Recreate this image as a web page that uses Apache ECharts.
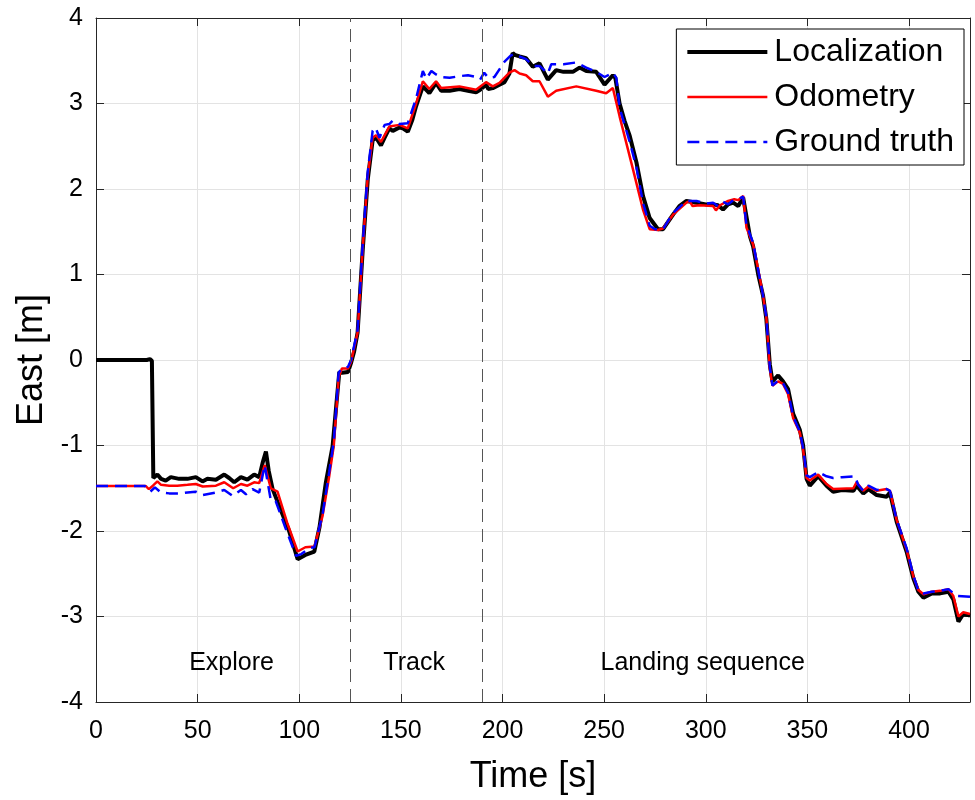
<!DOCTYPE html>
<html>
<head>
<meta charset="utf-8">
<title>East position</title>
<script src="https://cdn.jsdelivr.net/npm/echarts@6/dist/echarts.min.js"></script>
<style>
  html, body { margin: 0; padding: 0; background: #fff; }
  #chart { width: 975px; height: 800px; }
</style>
</head>
<body>
<div id="chart"></div>
<script>
// Localization (black)
var locT = [0, 25, 26.5, 27.5, 28.2, 28.6, 30.2, 32, 34.3, 36.8, 40.9, 45, 49.1, 52.4, 54.8, 59, 63.1, 65.5, 68, 71.3, 74.5, 77.8, 80.3, 82, 83.6, 85, 86.9, 90, 95, 99.2, 103, 107.4, 110, 113.1, 116.4, 119.7, 121, 124, 125.4, 127, 128.7, 131.2, 133.7, 136.1, 137.8, 140.2, 142, 144.3, 146, 149.3, 151, 153.4, 155.5, 157.5, 160.8, 162, 164, 167.3, 169.8, 174, 178.8, 183, 187, 189, 191.9, 193, 195.2, 198.5, 201, 203.4, 205, 206, 208.4, 211.6, 214.9, 218.2, 222.3, 226.4, 230, 234.6, 237.9, 241.2, 246.1, 250.2, 254.3, 255.5, 257.6, 260, 262.6, 265.9, 269.1, 272.4, 276.5, 279, 283.9, 287, 290.5, 295.5, 300, 303.6, 306, 308.5, 311, 313.5, 316, 318.4, 320, 321.7, 323.3, 325.8, 328.2, 329.8, 331.5, 332.8, 335.6, 338, 340.5, 343, 346.3, 347.9, 349.6, 351.2, 355.3, 359.4, 362.7, 367, 372.6, 374.2, 377.5, 380, 384.1, 389, 390.6, 393.9, 398.8, 402.1, 404.6, 407.1, 411.2, 415.3, 419.4, 421.8, 424.3, 426.7, 430];
var locE = [0, 0, 0.01, -0.01, -1.38, -1.39, -1.34, -1.39, -1.41, -1.37, -1.39, -1.39, -1.37, -1.42, -1.39, -1.40, -1.34, -1.38, -1.43, -1.37, -1.40, -1.34, -1.37, -1.2, -1.07, -1.3, -1.51, -1.7, -2.0, -2.33, -2.28, -2.24, -1.95, -1.43, -1.01, -0.14, -0.15, -0.14, -0.04, 0.1, 0.32, 1.28, 2.11, 2.57, 2.6, 2.51, 2.6, 2.71, 2.68, 2.72, 2.71, 2.67, 2.8, 2.97, 3.2, 3.17, 3.12, 3.24, 3.15, 3.15, 3.17, 3.15, 3.13, 3.16, 3.22, 3.17, 3.18, 3.22, 3.25, 3.35, 3.59, 3.57, 3.55, 3.53, 3.43, 3.47, 3.28, 3.39, 3.37, 3.37, 3.42, 3.38, 3.37, 3.22, 3.33, 3.3, 3.0, 2.8, 2.62, 2.31, 1.92, 1.66, 1.53, 1.53, 1.70, 1.8, 1.86, 1.84, 1.82, 1.82, 1.81, 1.76, 1.82, 1.84, 1.80, 1.90, 1.68, 1.45, 1.33, 1.0, 0.75, 0.48, -0.05, -0.25, -0.18, -0.25, -0.34, -0.63, -0.82, -1.0, -1.39, -1.47, -1.36, -1.47, -1.54, -1.52, -1.53, -1.47, -1.56, -1.51, -1.58, -1.6, -1.55, -1.89, -2.24, -2.55, -2.71, -2.78, -2.73, -2.73, -2.71, -2.8, -3.06, -2.97, -2.99];

// Odometry (red)
var odoT = [0, 24.4, 26, 28, 30.2, 32, 36, 40, 45, 49.1, 52.5, 59, 63.1, 67.5, 71.3, 74.5, 77.8, 80.3, 83, 86, 89.3, 94, 99.2, 103, 107.5, 111.5, 114.8, 117, 119.4, 121, 124, 125.5, 128.7, 131.2, 133.7, 136.1, 137.8, 140.2, 144.3, 149.3, 153.4, 157.5, 160.8, 164, 167.3, 169.8, 178.8, 187, 191.9, 195.2, 198.5, 203.4, 205.9, 208.4, 211.6, 214.9, 218.2, 222.3, 226.4, 236.3, 246.1, 251, 254.3, 257.6, 264.2, 269.1, 272.4, 276.5, 279, 283.9, 290.5, 292, 293.5, 297, 303.6, 305, 307, 311, 314, 316, 318.4, 320, 323.3, 325.8, 328.2, 329.8, 331.5, 332.8, 335.6, 338, 340.5, 343, 346.3, 347.9, 349.6, 351.2, 355.3, 359.4, 362.7, 372.6, 374.2, 377.5, 380, 384.1, 389, 390.6, 393.9, 398.8, 402.1, 404.6, 407.1, 411.2, 415.3, 419.4, 421.8, 424.3, 426.7, 430];
var odoE = [-1.473, -1.473, -1.51, -1.47, -1.42, -1.46, -1.47, -1.47, -1.46, -1.45, -1.48, -1.47, -1.43, -1.5, -1.45, -1.47, -1.43, -1.44, -1.23, -1.5, -1.54, -1.9, -2.24, -2.19, -2.18, -1.82, -1.35, -1.0, -0.2, -0.1, -0.1, -0.02, 0.32, 1.3, 2.15, 2.6, 2.63, 2.55, 2.73, 2.75, 2.71, 3.0, 3.26, 3.17, 3.26, 3.18, 3.2, 3.16, 3.25, 3.2, 3.24, 3.36, 3.39, 3.35, 3.33, 3.26, 3.26, 3.08, 3.15, 3.2, 3.15, 3.12, 3.18, 2.85, 2.23, 1.76, 1.53, 1.52, 1.54, 1.70, 1.84, 1.86, 1.80, 1.81, 1.80, 1.75, 1.81, 1.86, 1.88, 1.87, 1.92, 1.55, 1.35, 1.06, 0.75, 0.5, -0.1, -0.30, -0.25, -0.28, -0.4, -0.68, -0.85, -1.05, -1.38, -1.41, -1.34, -1.45, -1.51, -1.5, -1.43, -1.53, -1.48, -1.53, -1.51, -1.53, -1.87, -2.22, -2.53, -2.69, -2.74, -2.71, -2.7, -2.68, -2.76, -3.0, -2.95, -2.97];

// Ground truth (blue, dashed)
var gtT = [0, 24, 26.7, 29, 31.9, 36, 41, 45, 49, 52.4, 59, 63.1, 67.3, 71.3, 73.8, 77, 80.3, 83, 86, 88.4, 93, 98.4, 101, 104.9, 107.5, 111.5, 114.8, 117, 119.4, 121, 124, 125.5, 128.7, 131.2, 133.7, 136.1, 137.5, 139.5, 142, 144.3, 146, 149.3, 153.4, 157.5, 160.8, 162.5, 165, 167.3, 169.8, 174, 178.8, 183, 187, 189, 191, 193, 196, 201, 204, 206, 208.4, 211.6, 214.9, 218.2, 222.3, 224, 230, 236.3, 241.2, 246.1, 250.2, 254.3, 256, 257.6, 262.6, 265.9, 269.1, 272.4, 275, 279, 283.9, 290.5, 295.5, 300, 303.6, 306, 308.5, 311, 313.5, 316, 318.4, 320, 323.3, 325.8, 328.2, 329.8, 331.5, 332.8, 335.6, 338, 340.5, 343, 346.3, 347.9, 349.6, 351.2, 355.3, 359.4, 362.7, 367, 373.4, 375, 377.5, 380, 384.1, 389, 390.6, 393.9, 398.8, 402.1, 404.6, 407.1, 411.2, 415.3, 419.4, 423.5, 430];
var gtE = [-1.473, -1.473, -1.54, -1.49, -1.55, -1.56, -1.56, -1.55, -1.54, -1.58, -1.55, -1.52, -1.59, -1.52, -1.57, -1.51, -1.55, -1.23, -1.64, -1.65, -1.95, -2.29, -2.27, -2.2, -2.19, -1.80, -1.3, -0.95, -0.15, -0.1, -0.08, 0.0, 0.35, 1.35, 2.2, 2.68, 2.72, 2.6, 2.75, 2.76, 2.8, 2.76, 2.77, 3.06, 3.38, 3.29, 3.38, 3.34, 3.31, 3.3, 3.32, 3.33, 3.31, 3.28, 3.36, 3.3, 3.31, 3.49, 3.56, 3.58, 3.55, 3.52, 3.44, 3.44, 3.35, 3.46, 3.46, 3.48, 3.42, 3.37, 3.31, 3.36, 3.3, 2.95, 2.55, 2.25, 1.84, 1.57, 1.53, 1.53, 1.72, 1.86, 1.86, 1.83, 1.84, 1.80, 1.85, 1.82, 1.87, 1.88, 1.91, 1.58, 1.37, 1.05, 0.75, 0.5, -0.08, -0.30, -0.24, -0.27, -0.38, -0.66, -0.84, -1.03, -1.35, -1.37, -1.31, -1.36, -1.38, -1.37, -1.36, -1.46, -1.53, -1.47, -1.52, -1.51, -1.53, -1.87, -2.2, -2.52, -2.7, -2.73, -2.71, -2.7, -2.68, -2.76, -2.77];

// phase boundaries and labels
var phaseLines = [125, 190];
var phaseNames = ['Explore', 'Track', 'Landing sequence'];
var phaseX = [66.7, 156.5, 298.5];
var phaseY = -3.55;

function pairs(t, v) {
    var out = [];
    for (var i = 0; i < t.length; i++) {
        out.push([t[i], v[i]]);
    }
    return out;
}

var font = 'Liberation Sans, Arial, Helvetica, sans-serif';
var myChart = echarts.init(document.getElementById('chart'));

var labelData = [];
for (var i = 0; i < phaseNames.length; i++) {
    labelData.push([phaseX[i], phaseY, phaseNames[i]]);
}

var noSymbol = { opacity: 0 };

myChart.setOption({
    backgroundColor: '#fff',
    animation: false,
    grid: { left: 96, right: 5, top: 18, bottom: 96 },
    legend: {
        orient: 'vertical',
        right: 11,
        top: 29,
        backgroundColor: '#fff',
        borderColor: '#000',
        borderWidth: 1,
        borderRadius: 0,
        padding: [7, 10, 7, 9],
        itemGap: 13,
        itemWidth: 80,
        itemHeight: 20,
        textStyle: { fontFamily: font, fontSize: 32, color: '#000', padding: [0, 0, 0, 2] },
        data: [
            { name: 'Localization', itemStyle: noSymbol, lineStyle: { width: 4 } },
            { name: 'Odometry', itemStyle: noSymbol, lineStyle: { width: 2.5 } },
            { name: 'Ground truth', itemStyle: noSymbol, lineStyle: { width: 2.5 } }
        ]
    },
    xAxis: [{
        type: 'value',
        min: 0,
        max: 430,
        interval: 50,
        name: 'Time [s]',
        nameLocation: 'middle',
        nameGap: 57,
        nameTextStyle: { fontFamily: font, fontSize: 36, color: '#000' },
        axisLine: { onZero: false, lineStyle: { color: '#262626', width: 1 } },
        axisTick: { inside: true, length: 8, lineStyle: { color: '#262626' } },
        axisLabel: { fontFamily: font, fontSize: 25, color: '#000', margin: 17, showMaxLabel: false },
        splitLine: { show: true, lineStyle: { color: '#e3e3e3', width: 1 } }
    }, {
        type: 'value',
        position: 'top',
        min: 0,
        max: 430,
        interval: 50,
        axisLine: { onZero: false, lineStyle: { color: '#262626', width: 1 } },
        axisTick: { inside: true, length: 8, lineStyle: { color: '#262626' } },
        axisLabel: { show: false },
        splitLine: { show: false }
    }],
    yAxis: [{
        type: 'value',
        min: -4,
        max: 4,
        interval: 1,
        name: 'East [m]',
        nameLocation: 'middle',
        nameGap: 46,
        nameTextStyle: { fontFamily: font, fontSize: 36, color: '#000' },
        axisLine: { show: true, onZero: false, lineStyle: { color: '#262626', width: 1 } },
        axisTick: { show: true, inside: true, length: 8, lineStyle: { color: '#262626' } },
        axisLabel: { fontFamily: font, fontSize: 25, color: '#000', margin: 13 },
        splitLine: { show: true, lineStyle: { color: '#e3e3e3', width: 1 } }
    }, {
        type: 'value',
        position: 'right',
        min: -4,
        max: 4,
        interval: 1,
        axisLine: { show: true, onZero: false, lineStyle: { color: '#262626', width: 1 } },
        axisTick: { show: true, inside: true, length: 8, lineStyle: { color: '#262626' } },
        axisLabel: { show: false },
        splitLine: { show: false }
    }],
    series: [{
        name: 'Localization',
        type: 'line',
        data: pairs(locT, locE),
        showSymbol: false,
        symbol: 'none',
        color: '#000',
        lineStyle: { color: '#000', width: 4 },
        markLine: {
            silent: true,
            symbol: 'none',
            label: { show: false },
            lineStyle: { color: '#555', type: [13, 7], width: 1 },
            data: phaseLines.map(function (x) { return { xAxis: x }; })
        }
    }, {
        name: 'Odometry',
        type: 'line',
        data: pairs(odoT, odoE),
        showSymbol: false,
        symbol: 'none',
        color: '#ff0000',
        lineStyle: { color: '#ff0000', width: 2.5 }
    }, {
        name: 'Ground truth',
        type: 'line',
        data: pairs(gtT, gtE),
        showSymbol: false,
        symbol: 'none',
        color: '#0000ff',
        lineStyle: { color: '#0000ff', width: 2.5, type: [12, 7] }
    }, {
        name: 'phases',
        type: 'scatter',
        symbolSize: 1,
        silent: true,
        itemStyle: { color: 'rgba(0,0,0,0)' },
        data: labelData,
        label: {
            show: true,
            position: 'inside',
            fontFamily: font,
            fontSize: 25,
            color: '#000',
            opacity: 1,
            textBorderWidth: 0,
            textShadowBlur: 0,
            formatter: function (p) { return p.data[2]; }
        }
    }]
});
</script>
</body>
</html>
